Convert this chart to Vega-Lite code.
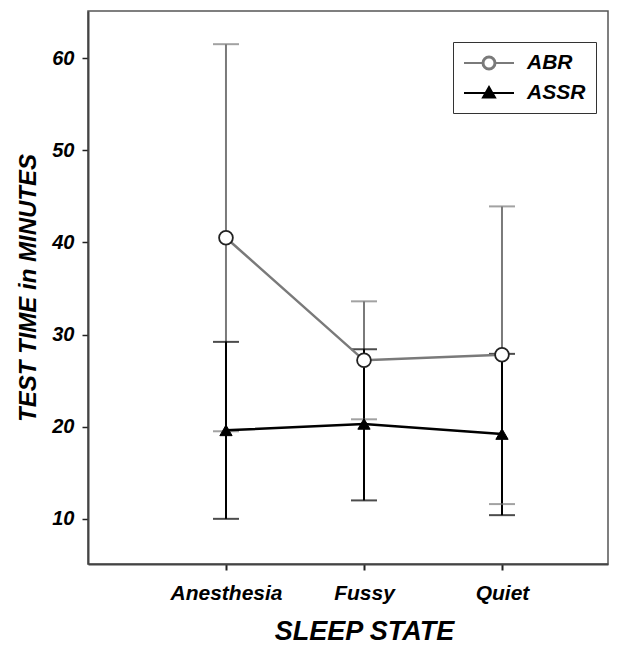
{
  "$schema": "https://vega.github.io/schema/vega-lite/v6.json",
  "width": 520,
  "height": 553,
  "autosize": "none",
  "padding": {"left": 88, "top": 11, "right": 32, "bottom": 81},
  "background": "white",
  "config": {
    "view": {"stroke": "#555", "strokeWidth": 1.5},
    "font": "Liberation Sans"
  },
  "data": {
    "values": [
      {"state": "Anesthesia", "series": "ABR", "mean": 40.5, "lower": 19.5, "upper": 61.5},
      {"state": "Fussy", "series": "ABR", "mean": 27.2, "lower": 20.8, "upper": 33.6},
      {"state": "Quiet", "series": "ABR", "mean": 27.8, "lower": 11.6, "upper": 43.9},
      {"state": "Anesthesia", "series": "ASSR", "mean": 19.6, "lower": 10.0, "upper": 29.2},
      {"state": "Fussy", "series": "ASSR", "mean": 20.3, "lower": 12.0, "upper": 28.4},
      {"state": "Quiet", "series": "ASSR", "mean": 19.2, "lower": 10.4, "upper": 27.9}
    ]
  },
  "encoding": {
    "x": {
      "field": "state",
      "type": "ordinal",
      "sort": ["Anesthesia", "Fussy", "Quiet"],
      "scale": {"type": "point", "padding": 0.884, "align": 0.5655},
      "axis": {
        "title": "SLEEP STATE",
        "titleFont": "Liberation Sans",
        "titleFontSize": 27,
        "titleFontWeight": "bold",
        "titleFontStyle": "italic",
        "titleColor": "#000",
        "titlePadding": 15,
        "titleX": 276,
        "labelAngle": 0,
        "labelFont": "Liberation Sans",
        "labelFontSize": 21,
        "labelFontWeight": "bold",
        "labelFontStyle": "italic",
        "labelColor": "#000",
        "labelPadding": 12,
        "tickSize": 6,
        "tickWidth": 2,
        "tickColor": "#222",
        "domainColor": "#444",
        "domainWidth": 2,
        "grid": false
      }
    }
  },
  "resolve": {"scale": {"color": "independent"}, "legend": {"color": "independent"}},
  "layer": [
    {
      "mark": {"type": "rule", "strokeWidth": 2},
      "encoding": {
        "y": {
          "field": "lower",
          "type": "quantitative",
          "scale": {"domain": [5.1, 65.1], "nice": false, "zero": false},
          "axis": {
            "title": "TEST TIME in MINUTES",
            "titleFont": "Liberation Sans",
            "titleFontSize": 24,
            "titleFontWeight": "bold",
            "titleFontStyle": "italic",
            "titleColor": "#000",
            "titlePadding": 11,
            "values": [10, 20, 30, 40, 50, 60],
            "labelFont": "Liberation Sans",
            "labelFontSize": 20,
            "labelFontWeight": "bold",
            "labelFontStyle": "italic",
            "labelColor": "#000",
            "labelPadding": 8,
            "tickSize": 6,
            "tickWidth": 1.5,
            "tickColor": "#222",
            "domainColor": "#444",
            "domainWidth": 2,
            "grid": false
          }
        },
        "y2": {"field": "upper"},
        "color": {"field": "series", "type": "nominal", "scale": {"domain": ["ABR", "ASSR"], "range": ["#7a7a7a", "#000000"]}, "legend": null}
      }
    },
    {
      "mark": {"type": "tick", "size": 26, "thickness": 2},
      "encoding": {
        "y": {"field": "lower", "type": "quantitative"},
        "color": {"field": "series", "type": "nominal", "scale": {"domain": ["ABR", "ASSR"], "range": ["#7a7a7a", "#000000"]}, "legend": null}
      }
    },
    {
      "mark": {"type": "tick", "size": 26, "thickness": 2},
      "encoding": {
        "y": {"field": "upper", "type": "quantitative"},
        "color": {"field": "series", "type": "nominal", "scale": {"domain": ["ABR", "ASSR"], "range": ["#7a7a7a", "#000000"]}, "legend": null}
      }
    },
    {
      "mark": {"type": "line", "strokeWidth": 2.5},
      "encoding": {
        "y": {"field": "mean", "type": "quantitative"},
        "color": {
          "field": "series",
          "type": "nominal",
          "scale": {"domain": ["ABR", "ASSR"], "range": ["#7a7a7a", "#000000"]},
          "legend": {
            "title": null,
            "orient": "none",
            "legendX": 365,
            "legendY": 31,
            "strokeColor": "#333",
            "fillColor": "white",
            "padding": 10,
            "symbolSize": 400,
            "symbolStrokeWidth": 2,
            "labelOffset": 42,
            "labelFont": "Liberation Sans",
            "labelFontSize": 21,
            "labelFontWeight": "bold",
            "labelFontStyle": "italic",
            "labelColor": "#000",
            "rowPadding": 8,
            "encode": {
              "symbols": {
                "update": {
                  "shape": {"signal": "datum.value === 'ABR' ? 'M-1,0L0.85,0M2.15,0L4,0M0.85,0A0.65,0.65,0,1,1,2.15,0A0.65,0.65,0,1,1,0.85,0M0.95,0A0.55,0.55,0,1,0,2.05,0A0.55,0.55,0,1,0,0.95,0' : 'M-1,0L4,0M0.9,0.45L1.5,-0.6L2.1,0.45Z'"},
                  "fill": {"signal": "datum.value === 'ABR' ? 'white' : 'black'"},
                  "stroke": {"signal": "datum.value === 'ABR' ? '#555' : 'black'"},
                  "strokeWidth": {"value": 2}
                }
              }
            }
          }
        }
      }
    },
    {
      "transform": [{"filter": "datum.series === 'ABR'"}],
      "mark": {"type": "point", "shape": "circle", "size": 190, "filled": true, "fill": "white", "stroke": "#222", "strokeWidth": 1.8, "opacity": 1},
      "encoding": {
        "y": {"field": "mean", "type": "quantitative"}
      }
    },
    {
      "transform": [{"filter": "datum.series === 'ASSR'"}],
      "mark": {"type": "point", "shape": "triangle-up", "size": 150, "filled": true, "fill": "black", "stroke": "black", "strokeWidth": 1, "opacity": 1},
      "encoding": {
        "y": {"field": "mean", "type": "quantitative"}
      }
    }
  ]
}
